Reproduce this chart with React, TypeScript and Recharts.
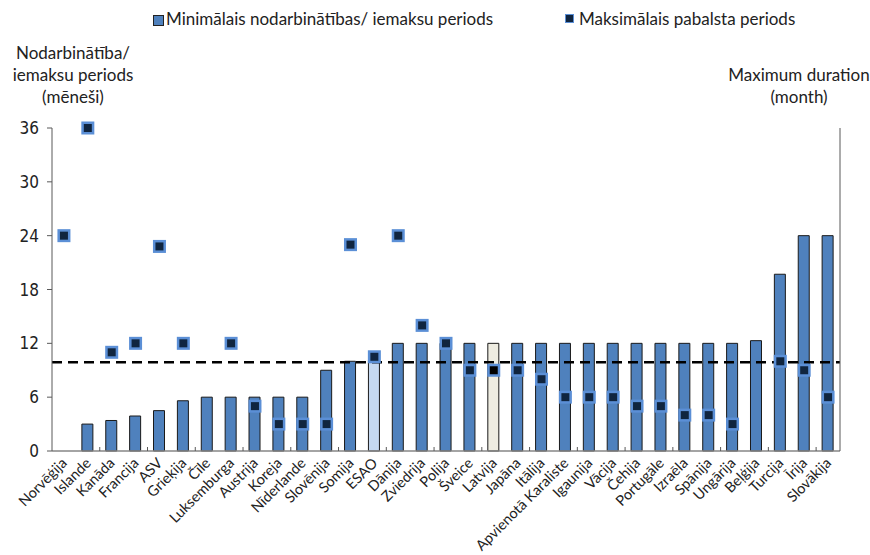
import React from 'react';
import {
  ComposedChart,
  Bar,
  Scatter,
  XAxis,
  YAxis,
  ReferenceLine,
  Legend,
  Cell,
} from 'recharts';

const categories = [
  'Norvēģija', 'Islande', 'Kanāda', 'Francija', 'ASV', 'Grieķija', 'Čīle', 'Luksemburga',
  'Austrija', 'Koreja', 'Nīderlande', 'Slovēnija', 'Somija', 'ESAO', 'Dānija', 'Zviedrija',
  'Polija', 'Šveice', 'Latvija', 'Japāna', 'Itālija', 'Apvienotā Karaliste', 'Igaunija',
  'Vācija', 'Čehija', 'Portugāle', 'Izraēla', 'Spānija', 'Ungārija', 'Beļģija', 'Turcija',
  'Īrija', 'Slovākija',
];

const minPeriod: (number | null)[] = [
  null, 3, 3.4, 3.9, 4.5, 5.6, 6, 6, 6, 6, 6, 9, 10, 10.1, 12, 12, 12, 12, 12, 12, 12, 12,
  12, 12, 12, 12, 12, 12, 12, 12.3, 19.7, 24, 24,
];

const maxPeriod: (number | null)[] = [
  24, 36, 11, 12, 22.8, 12, null, 12, 5, 3, 3, 3, 23, 10.5, 24, 14, 12, 9, 9, 9, 8, 6, 6,
  6, 5, 5, 4, 4, 3, null, 10, 9, 6,
];

const averageLine = 9.9;
const yTicks = [0, 6, 12, 18, 24, 30, 36];
const seriesNames = ['Minimālais nodarbinātības/ iemaksu periods', 'Maksimālais pabalsta periods'];
const leftTitle = ['Nodarbinātība/', 'iemaksu periods', '(mēneši)'];
const rightTitle = ['Maximum duration', '(month)'];

const data = categories.map((c, i) => ({ name: c, min: minPeriod[i], max: maxPeriod[i] }));

const BLUE = '#4F81BD';
const NAVY = '#10253F';
const textFont = "Lato, 'Open Sans', sans-serif";
const numFont = "'Liberation Sans Narrow', 'Arial Narrow', 'DejaVu Sans Condensed', 'Liberation Sans', sans-serif";

const CHART_W = 870;
const CHART_H = 555;
const MARGIN = { top: 128, right: 0, bottom: 4, left: 0 };
const LEFT_AXIS_W = 52;
const RIGHT_AXIS_W = 30;
const X_AXIS_H = 100;
const AXIS_Y = CHART_H - MARGIN.bottom - X_AXIS_H;
const BAND = (CHART_W - LEFT_AXIS_W - RIGHT_AXIS_W) / categories.length;

const barFill = (name: string) => {
  if (name === 'ESAO') return '#C6D9F1';
  if (name === 'Latvija') return '#EEECE1';
  return BLUE;
};

const MarkerShape = (props: any) => {
  const { cx, cy, payload } = props;
  if (payload == null || payload.max == null || !isFinite(cx) || !isFinite(cy)) return null;
  const s = 10.5;
  const fill = payload.name === 'Latvija' ? '#000000' : NAVY;
  return (
    <rect
      x={cx - s / 2}
      y={cy - s / 2}
      width={s}
      height={s}
      fill={fill}
      stroke="#5B8FD6"
      strokeWidth={2.5}
    />
  );
};

const CategoryTick = (props: any) => {
  const { x, payload, index } = props;
  const bx = x - BAND / 2;
  return (
    <g>
      {index > 0 && index % 2 === 0 ? (
        <line x1={bx} x2={bx} y1={AXIS_Y - 4} y2={AXIS_Y} stroke="#595959" strokeWidth={1} />
      ) : null}
      <g transform={`translate(${x + 4},${AXIS_Y + 13})`}>
        <text
          x={0}
          y={0}
          textAnchor="end"
          transform="rotate(-45)"
          fontFamily={textFont}
          fontSize={14.5}
          fill="#222"
        >
          {payload.value}
        </text>
      </g>
    </g>
  );
};

const LegendContent = () => (
  <div style={{ position: 'relative', width: 870, height: 30, fontFamily: textFont, fontSize: 17, color: '#222' }}>
    <div style={{ position: 'absolute', left: 153, top: 11, width: 9, height: 9, background: BLUE, border: '1px solid #222' }} />
    <div style={{ position: 'absolute', left: 166, top: 4, whiteSpace: 'nowrap', lineHeight: '22px' }}>{seriesNames[0]}</div>
    <div style={{ position: 'absolute', left: 565, top: 10, width: 7, height: 7, background: NAVY, border: '1.5px solid #5B8FD6' }} />
    <div style={{ position: 'absolute', left: 579, top: 4, whiteSpace: 'nowrap', lineHeight: '22px' }}>{seriesNames[1]}</div>
  </div>
);

export default function App() {
  return (
    <div style={{ position: 'absolute', left: 0, top: 0, width: CHART_W, height: CHART_H, background: '#fff' }}>
      <ComposedChart
        width={CHART_W}
        height={CHART_H}
        data={data}
        margin={MARGIN}
        barCategoryGap={0}
      >
        <XAxis
          dataKey="name"
          interval={0}
          height={X_AXIS_H}
          tickLine={false}
          axisLine={{ stroke: '#868686', strokeWidth: 1.5 }}
          tick={<CategoryTick />}
        />
        <YAxis
          yAxisId="left"
          domain={[0, 36]}
          ticks={yTicks}
          width={LEFT_AXIS_W}
          tickSize={5}
          tickMargin={8}
          axisLine={{ stroke: '#595959' }}
          tickLine={{ stroke: '#595959' }}
          tick={{ fontFamily: numFont, fontSize: 17, fill: '#222' }}
        />
        <YAxis
          yAxisId="right"
          orientation="right"
          domain={[0, 36]}
          ticks={yTicks}
          width={RIGHT_AXIS_W}
          tickSize={5}
          tickMargin={11}
          axisLine={{ stroke: '#595959' }}
          tickLine={{ stroke: '#595959' }}
          tick={{ fontFamily: numFont, fontSize: 17, fill: '#222', textAnchor: 'start' }}
        />
        <Legend
          layout="vertical"
          align="center"
          verticalAlign="middle"
          wrapperStyle={{ top: 4, left: 0, width: 870, height: 30 }}
          content={<LegendContent />}
        />
        <Bar
          yAxisId="left"
          dataKey="min"
          name={seriesNames[0]}
          barSize={11}
          stroke="#1a1a1a"
          strokeWidth={1}
          isAnimationActive={false}
        >
          {data.map((d) => (
            <Cell key={d.name} fill={barFill(d.name)} />
          ))}
        </Bar>
        <ReferenceLine
          yAxisId="left"
          y={averageLine}
          stroke="#000"
          strokeWidth={2.5}
          strokeDasharray="10 6"
        />
        <Scatter
          yAxisId="left"
          dataKey="max"
          name={seriesNames[1]}
          shape={<MarkerShape />}
          isAnimationActive={false}
        />
      </ComposedChart>
      <div style={{ position: 'absolute', left: 0, top: 42, width: 146, textAlign: 'center', fontFamily: textFont, fontSize: 17, lineHeight: '22px', color: '#222' }}>
        {leftTitle.map((t) => (
          <div key={t}>{t}</div>
        ))}
      </div>
      <div style={{ position: 'absolute', left: 728, top: 64, width: 142, textAlign: 'center', fontFamily: textFont, fontSize: 17, lineHeight: '22px', color: '#222' }}>
        {rightTitle.map((t) => (
          <div key={t}>{t}</div>
        ))}
      </div>
    </div>
  );
}
